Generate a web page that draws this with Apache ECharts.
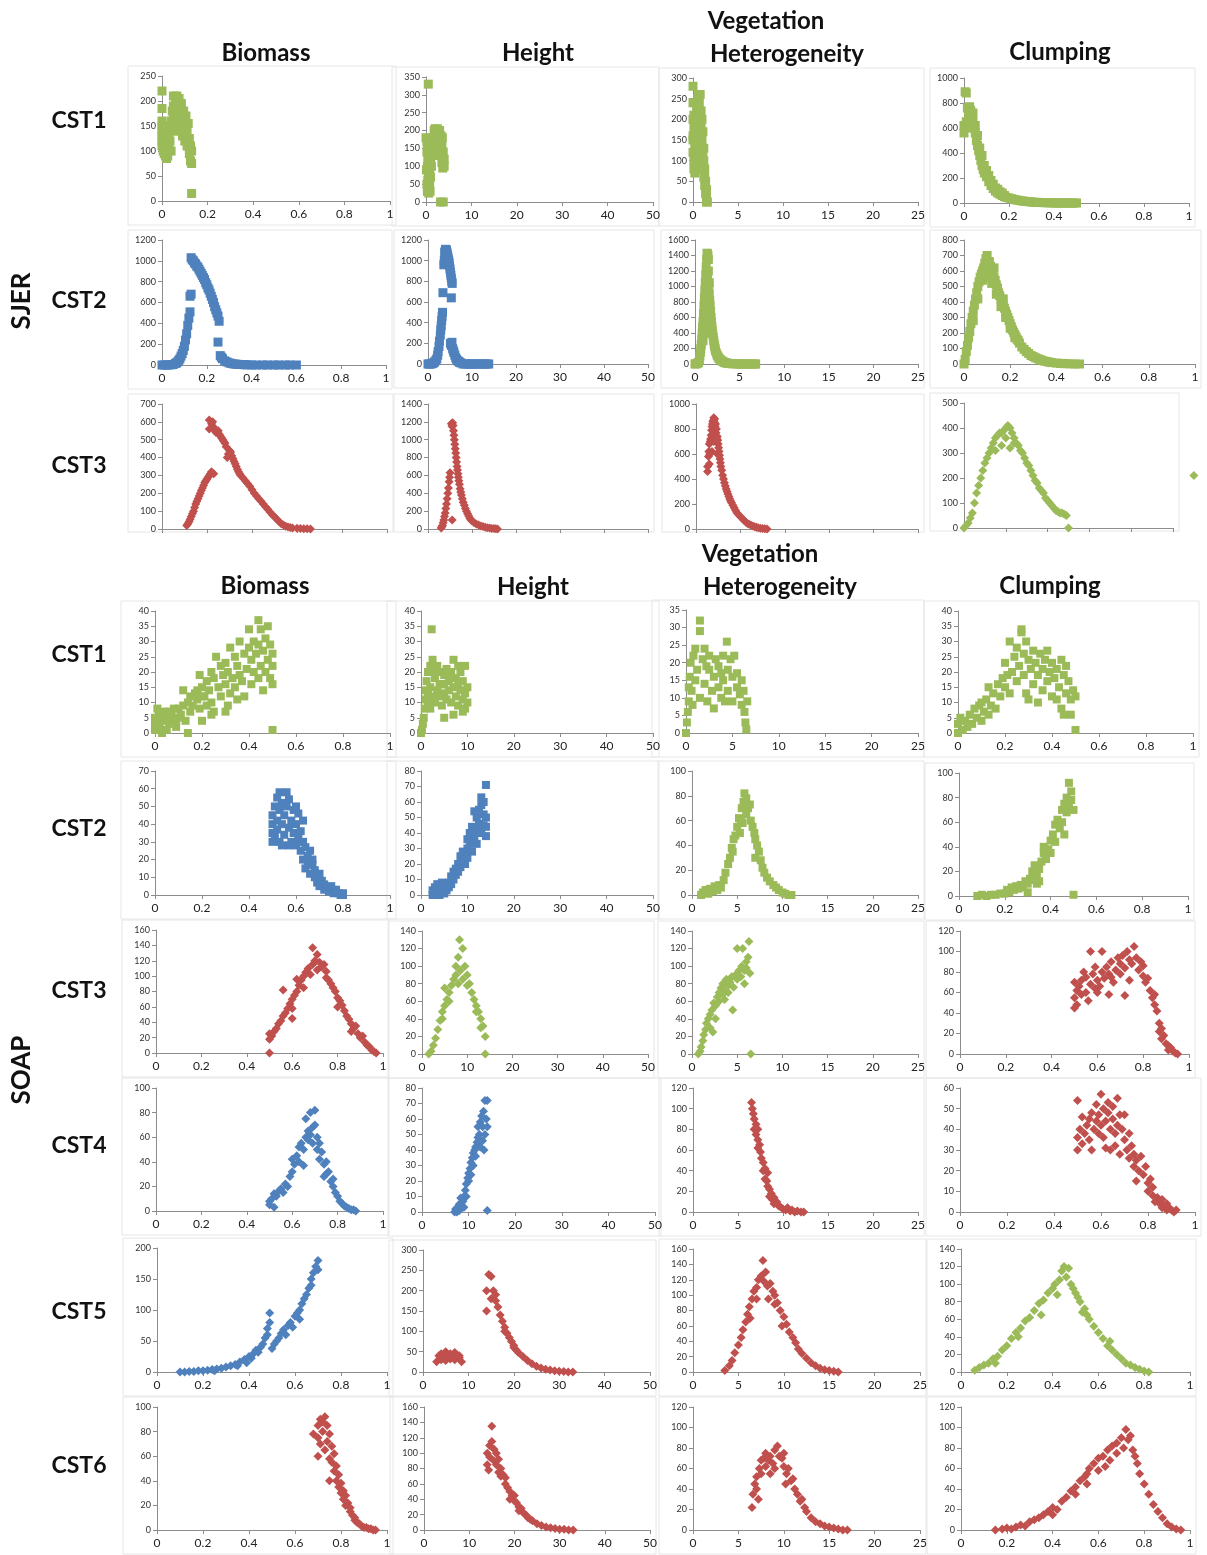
<!DOCTYPE html>
<html>
<head>
<meta charset="utf-8">
<title>SJER / SOAP scatter panels</title>
<script src="https://cdn.jsdelivr.net/npm/echarts@6/dist/echarts.min.js"></script>
<style>
  html, body { margin: 0; padding: 0; background: #fff; }
  #main { width: 1207px; height: 1555px; }
</style>
</head>
<body>
<div id="main"></div>
<script>
var GREEN = "#9bbb59", BLUE = "#4f81bd", RED = "#c0504d";

// column headings, row labels
var sjerRows = ["CST1", "CST2", "CST3"];
var soapRows = ["CST1", "CST2", "CST3", "CST4", "CST5", "CST6"];

// x axis per column
var xMaxes = [1, 50, 25, 1];
var xSteps = [0.2, 10, 5, 0.2];

// y axis max / step per panel row (9 rows x 4 cols)
var yMaxes = [
  [250, 350, 300, 1000],
  [1200, 1200, 1600, 800],
  [700, 1400, 1000, 500],
  [40, 40, 35, 40],
  [70, 80, 100, 100],
  [160, 140, 140, 120],
  [100, 80, 120, 60],
  [200, 300, 160, 140],
  [100, 160, 120, 120]
];
var ySteps = [
  [50, 50, 50, 200],
  [200, 200, 200, 100],
  [100, 200, 200, 100],
  [5, 5, 5, 5],
  [10, 10, 20, 20],
  [20, 20, 20, 20],
  [20, 10, 20, 10],
  [50, 50, 20, 20],
  [20, 20, 20, 20]
];

// ---------- SJER ----------
var sjerBio1 = [[0,220],[0,185],[0,160],[0,150],[0,140],[0,130],[0,120],[0,110],[0.005,100],[0.01,95],[0.01,150],[0.01,130],[0.015,90],[0.02,85],[0.02,100],[0.02,120],[0.025,90],[0.03,100],[0.03,130],[0.035,120],[0.04,140],[0.04,160],[0.045,150],[0.05,170],[0.05,190],[0.05,210],[0.055,180],[0.06,150],[0.06,200],[0.065,210],[0.07,160],[0.07,190],[0.075,205],[0.08,140],[0.08,175],[0.085,195],[0.09,130],[0.09,160],[0.095,180],[0.1,120],[0.1,150],[0.105,170],[0.11,110],[0.11,140],[0.115,155],[0.12,95],[0.12,125],[0.125,80],[0.125,110],[0.13,75],[0.13,100],[0.13,15],
  [0.03,110],[0.04,100],[0.06,170],[0.07,140],[0.08,160],[0.09,145],[0.1,135],[0.11,125],[0.12,110],[0.015,120],[0.005,135],[0.045,180],[0.06,190],[0.1,165],[0.02,140],[0.025,110]];
var sjerHgt1 = [[0.5,330],[0,180],[0.3,160],[0.2,140],[0.4,120],[0.3,100],[0.5,80],[0.4,60],[0.5,40],[0.6,25],[0.8,50],[0.8,90],[1,70],[1,110],[1,140],[1.2,100],[1.3,130],[1.4,160],[1.5,180],[1.6,150],[1.8,200],[2,170],[2,205],[2.2,190],[2.4,150],[2.5,205],[2.7,180],[2.8,140],[3,200],[3,160],[3.2,130],[3.3,185],[3.5,110],[3.5,160],[3.7,95],[3.8,140],[4,100],[4,120],[3.2,0],[3.8,0],
  [0.2,170],[0.1,90],[0.2,50],[0.7,120],[0.6,150],[1.1,160],[1.7,175],[2.3,160],[2.6,130],[3.4,145],[3.6,180],[2.9,190],[1.9,140],[0.9,30],[0.3,30]];
var sjerVeg1 = [[0,280],[0,240],[0,200],[0,160],[0,150],[0,120],[0.1,100],[0.1,80],[0.2,70],[0.2,130],[0.3,180],[0.3,110],[0.4,200],[0.4,150],[0.5,250],[0.5,220],[0.5,170],[0.6,260],[0.6,130],[0.7,240],[0.7,200],[0.7,160],[0.8,260],[0.8,110],[0.9,220],[0.9,180],[1,200],[1,150],[1,90],[1.1,170],[1.1,120],[1.2,100],[1.2,60],[1.3,80],[1.3,40],[1.4,50],[1.4,20],[1.5,10],[1.5,30],[1.6,0],[1.5,0],
  [0.2,100],[0.3,150],[0.4,230],[0.6,200],[0.8,220],[0.9,140],[1,120],[1.1,80],[1.2,130],[1.3,60],[0.6,100],[0.5,120],[0.1,180],[0.1,210]];
var sjerClu1 = [[0.005,890],[0.01,880],[0,560],[0,620],[0.01,650],[0.015,760],[0.02,700],[0.025,770],[0.03,600],[0.03,740],[0.035,680],[0.04,650],[0.045,600],[0.05,560],[0.05,620],[0.055,500],[0.06,460],[0.065,420],[0.07,380],[0.075,340],[0.08,300],[0.085,270],[0.09,240],[0.1,210],[0.11,170],[0.12,140],[0.13,115],[0.14,95],[0.15,80],[0.16,70],[0.17,60],[0.18,50],[0.19,45],[0.2,40],[0.22,30],[0.24,22],[0.26,16],[0.28,12],[0.3,8],[0.32,5],[0.34,4],[0.36,3],[0.38,2],[0.4,1],[0.42,0],[0.44,0],[0.46,0],[0.48,0],[0.5,0],[0.07,440],[0.09,300],[0.11,220],[0.13,150],[0.15,110],[0.17,80],
  [0.02,620],[0.04,720],[0.06,540],[0.08,380],[0.1,260],[0.12,180],[0.14,120],[0.16,90],[0.18,60],[0.21,35],[0.23,26],[0.25,19],[0.27,14],[0.29,10],[0.31,6],[0.33,5],[0.35,3],[0.37,2],[0.39,1],[0.41,0],[0.43,0],[0.45,0],[0.47,0],[0.49,0]];

var sjerBio2 = [[0,0],[0.02,0],[0.04,2],[0.05,5],[0.06,15],[0.07,30],[0.08,60],[0.09,110],[0.1,180],[0.105,240],[0.11,300],[0.115,380],[0.12,450],[0.125,510],[0.125,660],[0.13,680],[0.13,1030],[0.14,1000],[0.15,970],[0.16,940],[0.17,900],[0.18,860],[0.19,820],[0.2,770],[0.21,720],[0.22,660],[0.23,600],[0.24,530],[0.25,470],[0.255,420],[0.25,220],[0.26,90],[0.27,60],[0.28,40],[0.3,20],[0.32,10],[0.35,5],[0.38,2],[0.4,0],[0.45,0],[0.5,0],[0.55,0],[0.6,0],
  [0.03,0],[0.01,0],[0.065,20],[0.075,45],[0.085,85],[0.095,140],[0.135,1010],[0.145,980],[0.155,950],[0.165,920],[0.175,880],[0.185,840],[0.195,790],[0.205,740],[0.215,690],[0.225,630],[0.235,560],[0.245,500],[0.265,75],[0.29,30],[0.31,15],[0.33,8],[0.42,0],[0.47,0],[0.52,0],[0.57,0],[0.34,6],[0.36,4],[0.37,3]];
var sjerHgt2 = [[0,0],[0.5,0],[1,5],[1.5,20],[2,50],[2.3,120],[2.6,220],[2.9,330],[3.1,420],[3.3,500],[3.4,690],[3.6,960],[3.7,1000],[3.8,1080],[4,1110],[4.2,1100],[4.4,1060],[4.6,1020],[4.8,980],[5,920],[5.2,860],[5.4,800],[5.5,780],[5.3,640],[5.1,200],[5.3,180],[5.6,150],[5.9,110],[6.3,60],[6.8,30],[7.5,10],[8,0],[9,0],[10,0],[11,0],[12,0],[13,0],[13.8,0],
  [0.3,0],[0.8,2],[1.3,12],[1.8,35],[2.2,85],[2.5,170],[2.8,280],[3,370],[3.2,460],[3.9,1090],[4.1,1105],[4.3,1080],[4.5,1040],[4.7,1000],[4.9,950],[5.1,890],[5.3,830],[5.45,210],[5.75,130],[6.1,85],[6.5,45],[7,25],[8.5,0],[9.5,0],[10.5,0],[11.5,0],[12.5,0],[13.4,0],[7.2,15]];
var sjerVeg2 = [[0,0],[0.2,5],[0.4,20],[0.5,60],[0.6,150],[0.7,250],[0.8,400],[0.9,550],[1,750],[1.1,950],[1.2,1150],[1.3,1350],[1.35,1430],[1.45,1400],[1.5,1200],[1.55,1000],[1.6,900],[1.7,750],[1.8,600],[1.9,480],[2,380],[2.1,300],[2.2,230],[2.3,170],[2.5,110],[2.7,70],[3,40],[3.3,20],[3.6,10],[4,5],[4.5,2],[5,0],[5.5,0],[6,0],[6.5,0],[6.8,0],[1.2,800],[1.4,1100],[1.6,600],[1,400],[0.9,300],
  [0.1,2],[0.3,10],[0.55,100],[0.65,200],[0.75,320],[0.85,480],[0.95,650],[1.05,850],[1.15,1050],[1.25,1250],[1.4,1420],[1.5,1350],[1.6,1050],[1.65,820],[1.75,680],[1.85,540],[1.95,430],[2.05,340],[2.15,260],[2.25,200],[2.4,140],[2.6,90],[2.85,55],[3.15,30],[3.45,15],[3.8,8],[4.2,3],[4.8,1],[5.2,0],[5.7,0],[6.2,0],[6.7,0],[1.3,900],[1.5,700],[1.4,500],[1.7,400]];
var sjerClu2 = [[0,0],[0.005,30],[0.01,80],[0.02,170],[0.03,260],[0.04,340],[0.05,420],[0.06,500],[0.07,560],[0.08,600],[0.09,650],[0.1,700],[0.1,620],[0.11,660],[0.12,600],[0.13,560],[0.14,510],[0.15,460],[0.16,420],[0.17,380],[0.18,340],[0.19,300],[0.2,260],[0.21,220],[0.22,190],[0.23,160],[0.24,135],[0.25,110],[0.27,80],[0.29,55],[0.31,40],[0.33,28],[0.35,18],[0.37,12],[0.4,6],[0.43,3],[0.46,1],[0.5,0],[0.06,420],[0.08,540],[0.13,620],[0.17,420],[0.12,520],[0.2,230],[0.04,280],
  [0.015,120],[0.025,210],[0.035,300],[0.045,380],[0.055,460],[0.065,530],[0.075,580],[0.085,620],[0.095,680],[0.105,660],[0.115,630],[0.125,580],[0.135,540],[0.145,490],[0.155,440],[0.165,400],[0.175,360],[0.185,320],[0.195,280],[0.205,240],[0.215,205],[0.225,175],[0.235,150],[0.26,95],[0.28,68],[0.3,48],[0.32,34],[0.34,22],[0.36,15],[0.38,9],[0.42,4],[0.44,2],[0.48,0],[0.09,560],[0.11,580],[0.14,450],[0.16,370],[0.18,300],[0.22,170]];

var sjerBio3 = [[0.11,20],[0.12,40],[0.13,70],[0.14,100],[0.15,140],[0.16,170],[0.17,200],[0.18,230],[0.19,260],[0.2,280],[0.21,300],[0.22,320],[0.23,310],[0.21,610],[0.22,590],[0.21,560],[0.23,570],[0.24,540],[0.25,550],[0.26,520],[0.27,500],[0.28,480],[0.3,440],[0.29,400],[0.31,410],[0.32,380],[0.33,350],[0.34,320],[0.35,300],[0.37,270],[0.39,240],[0.41,200],[0.43,170],[0.45,140],[0.47,110],[0.49,80],[0.51,55],[0.53,30],[0.55,15],[0.57,8],[0.6,4],[0.63,2],[0.66,0],
  [0.115,30],[0.125,55],[0.135,85],[0.145,120],[0.155,155],[0.165,185],[0.175,215],[0.185,245],[0.195,270],[0.205,290],[0.215,310],[0.225,600],[0.235,550],[0.255,530],[0.265,510],[0.275,490],[0.285,460],[0.295,420],[0.305,430],[0.315,395],[0.325,365],[0.335,335],[0.345,310],[0.36,285],[0.38,255],[0.4,220],[0.42,185],[0.44,155],[0.46,125],[0.48,95],[0.5,68],[0.52,42],[0.54,22],[0.56,11],[0.58,6],[0.615,3],[0.645,1]];
var sjerHgt3 = [[3,10],[3.3,40],[3.6,100],[3.9,180],[4.2,280],[4.5,400],[4.8,530],[5,630],[5.5,100],[5.3,1180],[5.6,1190],[5.8,1100],[6,1000],[6.2,900],[6.4,800],[6.6,700],[6.8,620],[7,540],[7.3,450],[7.6,380],[8,300],[8.5,230],[9,170],[9.5,120],[10,90],[11,55],[12,35],[13,20],[14,10],[15,5],[15.8,0],
  [3.15,25],[3.45,70],[3.75,140],[4.05,230],[4.35,340],[4.65,460],[4.9,580],[5.45,1150],[5.7,1160],[5.9,1050],[6.1,950],[6.3,850],[6.5,750],[6.7,660],[6.9,580],[7.15,500],[7.45,415],[7.8,340],[8.25,265],[8.75,200],[9.25,145],[9.75,105],[10.5,70],[11.5,45],[12.5,28],[13.5,15],[14.5,7],[15.4,3]];
var sjerVeg3 = [[1.3,460],[1.3,500],[1.4,580],[1.5,520],[1.5,680],[1.6,700],[1.7,750],[1.8,820],[1.9,860],[2,890],[2.1,880],[2.2,840],[2.3,800],[2.2,720],[2.4,740],[2.5,680],[2.6,620],[2.7,560],[2.8,500],[3,430],[3.2,370],[3.4,320],[3.6,280],[3.8,240],[4,210],[4.3,170],[4.6,130],[5,100],[5.4,70],[5.8,45],[6.2,30],[6.6,18],[7,10],[7.5,5],[8,0],[1.8,620],[2,700],[2.4,600],
  [1.45,620],[1.55,600],[1.65,720],[1.75,790],[1.85,840],[1.95,870],[2.05,860],[2.15,820],[2.25,770],[2.35,720],[2.45,710],[2.55,650],[2.65,590],[2.75,530],[2.9,470],[3.1,400],[3.3,345],[3.5,300],[3.7,260],[3.9,225],[4.15,190],[4.45,150],[4.8,115],[5.2,85],[5.6,57],[6,38],[6.4,24],[6.8,14],[7.25,7],[7.75,2]];
var sjerClu3 = [[0,0],[0.01,10],[0.02,20],[0.03,40],[0.04,60],[0.05,100],[0.06,140],[0.07,170],[0.08,200],[0.09,230],[0.1,260],[0.11,280],[0.12,300],[0.13,320],[0.14,340],[0.15,360],[0.16,370],[0.17,380],[0.18,380],[0.19,390],[0.2,400],[0.21,410],[0.22,400],[0.23,380],[0.24,360],[0.25,340],[0.26,330],[0.27,310],[0.28,300],[0.29,280],[0.3,260],[0.31,250],[0.32,230],[0.33,210],[0.34,190],[0.35,180],[0.36,160],[0.37,150],[0.38,140],[0.39,120],[0.4,110],[0.41,100],[0.42,90],[0.43,80],[0.44,70],[0.45,65],[0.46,60],[0.47,60],[0.48,55],[0.49,50],[0.5,0],[0.15,310],[0.18,330],[0.2,360],[0.24,340],[0.22,320],[1.1,210]];

// ---------- SOAP ----------
var soapBio1 = [[0,1],[0,3],[0,5],[0.01,8],[0.02,2],[0.02,6],[0.03,0],[0.03,4],[0.04,7],[0.05,5],[0.06,3],[0.07,6],[0.08,4],[0.08,8],[0.09,2],[0.1,5],[0.1,8],[0.11,6],[0.12,14],[0.12,9],[0.13,4],[0.14,0],[0.14,10],[0.15,7],[0.15,12],[0.16,9],[0.17,13],[0.18,11],[0.19,19],[0.19,8],[0.2,4],[0.2,15],[0.21,12],[0.22,17],[0.22,9],[0.23,14],[0.24,20],[0.24,10],[0.25,18],[0.25,7],[0.26,25],[0.27,15],[0.28,22],[0.28,12],[0.29,19],[0.3,16],[0.3,23],[0.31,20],[0.31,9],[0.32,13],[0.32,28],[0.33,18],[0.34,25],[0.34,15],[0.35,22],[0.35,11],[0.36,30],[0.36,19],[0.37,17],[0.38,26],[0.38,12],[0.39,21],[0.4,28],[0.4,34],[0.41,16],[0.41,24],[0.42,30],[0.42,20],[0.44,37],[0.43,26],[0.44,18],[0.44,29],[0.45,34],[0.45,22],[0.46,14],[0.46,27],[0.47,31],[0.47,20],[0.48,35],[0.48,24],[0.49,18],[0.49,29],[0.5,26],[0.5,16],[0.5,22],[0.5,1],[0.09,4],[0.05,1],[0.01,1],[0.06,7],[0.24,6],[0.3,7],[0.18,14],[0.2,12]];
var soapHgt1 = [[0,0],[0.2,1],[0.4,3],[0.6,5],[0.8,8],[1,11],[1,14],[1.2,17],[1.5,20],[1.5,10],[2,22],[2,15],[2.3,34],[2.5,24],[2.5,12],[3,18],[3,10],[3.5,22],[3.5,14],[4,20],[4,12],[4.5,16],[4.5,9],[5,5],[5,19],[5,13],[5.5,21],[5.5,11],[6,17],[6,14],[6.5,20],[6.5,10],[7,24],[7,15],[7,6],[7.5,12],[7.5,18],[8,22],[8,9],[8.5,14],[8.5,20],[9,11],[9,17],[9.5,8],[9.5,13],[9.5,22],[10,10],[10,15],[2,8],[3,20],[4,16],[6,19],[8,16],[1.5,13],[5,16],[9,7]];
var soapVeg1 = [[0,0],[0.1,3],[0.2,6],[0.3,9],[0.3,13],[0.4,16],[0.5,20],[0.6,12],[0.8,22],[1,24],[1,15],[1.2,18],[1.5,32],[1.5,29],[1.5,10],[1.8,21],[2,14],[2,24],[2.3,9],[2.5,18],[2.5,22],[2.8,12],[3,7],[3,16],[3.2,21],[3.5,13],[3.5,19],[3.8,10],[4,22],[4,15],[4.4,26],[4.5,12],[4.5,18],[4.8,21],[5,9],[5,16],[5.2,22],[5.5,13],[5.5,17],[5.8,11],[6,15],[6,8],[6.2,12],[6.3,6],[6.4,3],[6.5,1],[6.6,9],[0.7,8],[2.2,19],[3.8,17],[4.2,9]];
var soapClu1 = [[0,0],[0,3],[0.01,5],[0.02,1],[0.03,4],[0.04,2],[0.05,6],[0.06,3],[0.07,8],[0.08,5],[0.09,9],[0.1,4],[0.1,10],[0.11,7],[0.12,11],[0.13,6],[0.13,15],[0.14,9],[0.15,13],[0.16,8],[0.17,16],[0.18,12],[0.19,18],[0.2,15],[0.2,23],[0.21,19],[0.22,30],[0.22,13],[0.23,20],[0.24,25],[0.25,17],[0.25,28],[0.26,22],[0.27,33],[0.27,34],[0.28,26],[0.28,19],[0.29,30],[0.29,13],[0.3,24],[0.3,11],[0.31,21],[0.32,27],[0.32,16],[0.33,23],[0.34,19],[0.34,10],[0.35,26],[0.36,21],[0.36,14],[0.37,24],[0.38,17],[0.38,27],[0.39,20],[0.4,12],[0.4,23],[0.41,18],[0.42,21],[0.42,11],[0.43,15],[0.44,24],[0.44,8],[0.45,19],[0.45,6],[0.46,22],[0.46,13],[0.47,17],[0.48,11],[0.48,6],[0.49,14],[0.5,1],[0.5,12]];

var soapBio2 = [[0.5,30],[0.5,35],[0.5,40],[0.5,45],[0.51,50],[0.51,33],[0.52,55],[0.52,42],[0.52,37],[0.53,58],[0.53,48],[0.53,30],[0.54,52],[0.54,40],[0.55,45],[0.55,34],[0.56,58],[0.56,50],[0.57,38],[0.57,54],[0.58,42],[0.58,30],[0.59,48],[0.59,35],[0.6,28],[0.6,40],[0.61,32],[0.61,46],[0.62,36],[0.62,25],[0.63,30],[0.63,20],[0.64,27],[0.64,15],[0.65,22],[0.65,18],[0.66,25],[0.66,12],[0.67,17],[0.67,20],[0.68,10],[0.68,14],[0.69,7],[0.7,12],[0.7,5],[0.71,8],[0.72,3],[0.72,6],[0.73,4],[0.74,2],[0.75,5],[0.76,1],[0.77,3],[0.78,1],[0.79,0],[0.8,1],[0.8,0],[0.57,28],[0.54,28],[0.6,50],[0.63,42]];
var soapHgt2 = [[2.5,0],[2.5,3],[3,1],[3,5],[3.5,2],[3.5,7],[4,0],[4,4],[4.5,8],[4.5,2],[5,5],[5,1],[5.5,6],[5.5,3],[6,8],[6,5],[6.5,12],[6.5,7],[7,10],[7,15],[7.5,13],[7.5,17],[8,15],[8,20],[8.5,18],[8.5,25],[9,22],[9,28],[9.5,26],[9.5,20],[10,30],[10,36],[10.5,33],[10.5,40],[11,35],[11,44],[11.5,38],[11.5,54],[12,42],[12,50],[12.5,46],[12.5,55],[13,40],[13,58],[13,63],[13.5,45],[13.5,52],[13.5,60],[14,38],[14,50],[14,71],[14,44],[11,28],[12,33],[10,24]];
var soapVeg2 = [[1,0],[1.2,2],[1.5,4],[1.8,1],[2,5],[2.3,3],[2.5,7],[2.8,4],[3,8],[3.2,6],[3.5,12],[3.7,18],[4,25],[4.2,30],[4.4,38],[4.6,45],[4.8,48],[5,55],[5.2,62],[5.4,60],[5.5,70],[5.7,75],[5.8,82],[6,78],[6,65],[6.2,70],[6.4,73],[6.5,60],[6.7,55],[6.9,50],[7,45],[7.2,40],[7.4,35],[7.6,28],[7.8,22],[8,18],[8.3,14],[8.6,11],[9,8],[9.3,6],[9.6,4],[10,2],[10.3,1],[10.7,0],[11,0],[5.3,50],[5.6,58],[4.5,35],[7,30]];
var soapClu2 = [[0.08,0],[0.1,1],[0.12,0],[0.14,1],[0.16,1],[0.18,2],[0.2,2],[0.21,5],[0.22,3],[0.23,7],[0.24,5],[0.25,8],[0.26,6],[0.27,9],[0.28,7],[0.29,12],[0.3,10],[0.31,14],[0.32,20],[0.32,13],[0.33,25],[0.34,18],[0.35,22],[0.35,12],[0.36,28],[0.37,35],[0.37,40],[0.38,30],[0.39,38],[0.4,45],[0.4,35],[0.41,50],[0.42,58],[0.42,44],[0.43,62],[0.44,55],[0.45,70],[0.45,60],[0.46,75],[0.46,50],[0.47,80],[0.47,68],[0.48,92],[0.48,72],[0.49,85],[0.49,78],[0.5,70],[0.5,1],[0.3,3],[0.34,10]];

var soapBio3 = [[0.5,0],[0.5,18],[0.5,25],[0.51,22],[0.52,28],[0.53,32],[0.54,38],[0.55,42],[0.56,48],[0.56,82],[0.57,52],[0.58,58],[0.59,64],[0.6,70],[0.6,58],[0.61,75],[0.62,80],[0.62,96],[0.63,88],[0.64,95],[0.65,100],[0.65,85],[0.66,105],[0.67,110],[0.68,102],[0.69,137],[0.69,115],[0.7,120],[0.71,128],[0.71,108],[0.72,118],[0.73,112],[0.74,115],[0.75,106],[0.76,95],[0.77,90],[0.78,85],[0.79,80],[0.8,72],[0.81,68],[0.82,62],[0.83,55],[0.84,48],[0.85,44],[0.86,38],[0.87,32],[0.88,35],[0.89,25],[0.9,20],[0.91,22],[0.92,14],[0.93,10],[0.94,8],[0.95,4],[0.96,2],[0.97,0],[0.75,98],[0.8,60],[0.86,28],[0.6,45]];
var soapHgt3 = [[1.5,0],[2,3],[2.5,10],[3,18],[3.5,28],[4,38],[4.5,48],[5,55],[5,75],[5.5,62],[6,70],[6.5,78],[7,85],[7.5,90],[7.5,100],[8,110],[8.3,130],[8.5,95],[9,120],[9,85],[9.5,100],[10,90],[10.5,80],[11,70],[11.5,62],[12,55],[12.5,48],[13,40],[13.5,32],[14,20],[14,0],[4.5,40],[6,60],[8,80],[10,78],[12,48],[13,30]];
var soapVeg3 = [[0.7,0],[0.9,3],[1,8],[1.2,15],[1.3,22],[1.5,28],[1.6,35],[1.8,40],[2,45],[2,30],[2.2,50],[2.3,25],[2.4,58],[2.6,55],[2.8,65],[3,70],[3,60],[3.2,75],[3.4,80],[3.4,68],[3.6,72],[3.8,85],[4,78],[4,70],[4.2,82],[4.4,88],[4.5,50],[4.6,76],[4.8,90],[5,85],[5,120],[5.2,95],[5.4,88],[5.5,100],[5.6,120],[5.8,95],[5.8,80],[6,105],[6,98],[6.2,110],[6.3,128],[6.4,92],[6.5,0],[3.6,62],[2.6,40]];
var soapClu3 = [[0.5,45],[0.5,55],[0.5,70],[0.51,48],[0.51,62],[0.52,66],[0.53,58],[0.53,72],[0.54,80],[0.55,60],[0.55,75],[0.56,52],[0.57,68],[0.57,100],[0.58,78],[0.59,64],[0.59,85],[0.6,72],[0.61,66],[0.62,100],[0.62,80],[0.63,74],[0.64,85],[0.65,58],[0.65,78],[0.66,90],[0.67,70],[0.68,82],[0.69,94],[0.7,78],[0.7,88],[0.71,96],[0.72,57],[0.72,84],[0.73,100],[0.74,92],[0.74,72],[0.75,88],[0.76,105],[0.77,94],[0.78,82],[0.79,90],[0.8,76],[0.8,86],[0.81,70],[0.82,74],[0.83,62],[0.84,55],[0.85,48],[0.85,58],[0.86,42],[0.87,30],[0.87,22],[0.88,25],[0.88,15],[0.89,18],[0.9,10],[0.91,8],[0.91,4],[0.92,6],[0.93,3],[0.94,1],[0.95,0],[0.6,60],[0.66,75]];

var soapBio4 = [[0.5,5],[0.5,8],[0.51,10],[0.52,3],[0.52,14],[0.53,12],[0.54,16],[0.55,18],[0.56,15],[0.57,22],[0.58,20],[0.59,28],[0.6,32],[0.6,42],[0.61,38],[0.62,45],[0.63,52],[0.63,40],[0.64,55],[0.65,50],[0.66,60],[0.66,75],[0.67,58],[0.67,65],[0.68,62],[0.68,80],[0.69,55],[0.69,68],[0.7,70],[0.7,82],[0.71,60],[0.71,50],[0.72,55],[0.72,42],[0.73,48],[0.74,38],[0.75,40],[0.75,30],[0.76,32],[0.77,24],[0.78,20],[0.79,15],[0.8,12],[0.81,8],[0.82,6],[0.83,4],[0.84,3],[0.85,2],[0.86,1],[0.87,1],[0.88,0],[0.65,37],[0.74,28],[0.78,26]];
var soapHgt4 = [[7,0],[7.2,2],[7.5,0],[7.8,3],[8,1],[8,5],[8.3,9],[8.5,4],[8.8,7],[9,10],[9,3],[9.3,14],[9.5,18],[9.5,10],[9.8,22],[10,25],[10,20],[10.3,28],[10.5,32],[10.5,24],[10.8,35],[11,38],[11,30],[11.3,40],[11.5,42],[11.5,36],[11.8,45],[12,48],[12,55],[12.3,50],[12.5,58],[12.5,42],[12.8,62],[13,55],[13,46],[13.2,65],[13.5,72],[13.5,50],[13.8,60],[14,72],[14,55],[13.3,40],[14,1]];
var soapVeg4 = [[6.5,106],[6.6,100],[6.7,95],[6.8,90],[6.8,80],[7,85],[7,75],[7.2,70],[7.2,62],[7.4,65],[7.5,58],[7.6,52],[7.8,48],[7.8,40],[8,42],[8,32],[8.2,30],[8.3,25],[8.5,22],[8.5,15],[8.7,18],[8.8,12],[9,14],[9,8],[9.3,10],[9.5,6],[9.7,5],[10,3],[10.3,2],[10.5,4],[10.8,1],[11,2],[11.3,0],[11.6,1],[12,0],[12.3,0],[7.2,80],[8.3,38]];
var soapClu4 = [[0.5,54],[0.5,30],[0.5,36],[0.51,40],[0.52,33],[0.52,46],[0.53,38],[0.54,42],[0.55,35],[0.55,45],[0.56,30],[0.56,48],[0.57,40],[0.58,44],[0.58,52],[0.59,38],[0.59,47],[0.6,57],[0.6,42],[0.61,36],[0.61,50],[0.62,44],[0.62,31],[0.63,48],[0.63,53],[0.64,40],[0.64,30],[0.65,45],[0.65,51],[0.66,38],[0.66,32],[0.67,55],[0.67,42],[0.68,47],[0.68,28],[0.69,40],[0.7,35],[0.7,47],[0.71,30],[0.72,38],[0.72,26],[0.73,32],[0.74,28],[0.74,22],[0.75,15],[0.75,25],[0.76,20],[0.77,27],[0.78,18],[0.79,22],[0.8,14],[0.8,10],[0.81,16],[0.82,8],[0.82,12],[0.83,5],[0.84,7],[0.85,4],[0.86,6],[0.86,2],[0.87,3],[0.88,1],[0.88,4],[0.89,2],[0.9,1],[0.91,0],[0.92,1]];

var soapBio5 = [[0.1,0],[0.12,0],[0.14,1],[0.16,1],[0.18,2],[0.2,2],[0.22,3],[0.24,4],[0.26,5],[0.28,6],[0.3,8],[0.32,10],[0.34,12],[0.36,16],[0.38,20],[0.4,25],[0.41,22],[0.42,30],[0.43,35],[0.44,32],[0.45,40],[0.46,45],[0.47,55],[0.48,60],[0.48,70],[0.49,95],[0.49,80],[0.5,38],[0.51,45],[0.52,50],[0.53,55],[0.54,62],[0.55,68],[0.56,60],[0.57,75],[0.58,80],[0.59,72],[0.6,90],[0.61,95],[0.62,100],[0.62,85],[0.63,110],[0.64,118],[0.65,125],[0.66,135],[0.67,140],[0.67,150],[0.68,160],[0.69,170],[0.7,180],[0.7,165],[0.25,2],[0.35,10],[0.39,15]];
var soapHgt5 = [[3,25],[3.5,40],[4,30],[4,45],[4.5,35],[5,50],[5,28],[5.5,40],[6,32],[6,45],[6.5,38],[7,30],[7,48],[7.5,42],[8,35],[8.5,25],[8,40],[14,200],[14.5,240],[15,235],[15,180],[15.5,200],[16,175],[16.5,160],[17,140],[17.5,125],[18,110],[18.5,95],[19,85],[19.5,75],[20,65],[20.5,55],[21,48],[22,38],[23,28],[24,20],[25,14],[26,10],[27,7],[28,5],[29,3],[30,2],[31,1],[32,0],[33,0],[14,150],[16,190],[18,100],[20,60]];
var soapVeg5 = [[3.5,2],[4,8],[4.3,15],[4.6,25],[5,35],[5.3,45],[5.5,55],[5.8,65],[6,75],[6.2,85],[6.5,95],[6.7,105],[7,110],[7,95],[7.2,120],[7.5,125],[7.7,145],[7.8,118],[8,130],[8.2,112],[8.5,115],[8.8,105],[9,100],[9,88],[9.3,90],[9.6,80],[10,72],[10.3,62],[10.6,52],[11,45],[11.3,38],[11.6,30],[12,24],[12.5,18],[13,12],[13.5,8],[14,5],[14.5,3],[15,2],[15.5,1],[16,0],[6.3,70],[8.3,95],[9.8,60]];
var soapClu5 = [[0.06,2],[0.08,5],[0.1,8],[0.12,10],[0.14,15],[0.16,18],[0.18,25],[0.2,30],[0.22,38],[0.24,45],[0.26,50],[0.28,58],[0.3,62],[0.32,70],[0.34,78],[0.36,82],[0.38,90],[0.4,95],[0.41,100],[0.42,88],[0.43,105],[0.44,115],[0.45,120],[0.46,108],[0.47,118],[0.48,100],[0.49,95],[0.5,90],[0.51,85],[0.52,80],[0.54,72],[0.55,65],[0.56,60],[0.58,52],[0.6,45],[0.62,38],[0.64,30],[0.66,25],[0.68,20],[0.7,15],[0.72,10],[0.74,8],[0.76,5],[0.78,3],[0.8,1],[0.82,0],[0.15,10],[0.25,40],[0.35,65],[0.53,68],[0.65,35]];

var soapBio6 = [[0.7,85],[0.7,75],[0.71,90],[0.71,70],[0.72,88],[0.72,80],[0.73,92],[0.73,65],[0.74,85],[0.74,72],[0.75,78],[0.75,58],[0.76,68],[0.76,55],[0.77,62],[0.77,48],[0.78,52],[0.78,40],[0.79,45],[0.79,35],[0.8,38],[0.8,30],[0.81,32],[0.81,25],[0.82,28],[0.82,20],[0.83,22],[0.84,15],[0.84,18],[0.85,12],[0.86,8],[0.86,10],[0.87,6],[0.88,5],[0.89,3],[0.9,2],[0.91,2],[0.92,1],[0.93,1],[0.94,0],[0.95,0],[0.7,60],[0.68,78],[0.75,40]];
var soapHgt6 = [[14,85],[14,100],[14.5,110],[14.5,95],[15,135],[15,115],[15.5,105],[15.5,90],[16,100],[16,85],[16.5,92],[17,80],[17,70],[17.5,72],[18,60],[18,68],[18.5,55],[19,50],[19.5,45],[20,38],[20,45],[20.5,35],[21,30],[21.5,28],[22,22],[22.5,20],[23,16],[23.5,14],[24,12],[25,8],[26,6],[27,4],[28,3],[29,2],[30,1],[31,1],[32,0],[33,0],[14.3,78],[16.5,75],[19,40],[21,25]];
var soapVeg6 = [[6.5,22],[6.6,35],[6.8,45],[7,52],[7,40],[7.3,60],[7.5,55],[7.5,68],[7.8,70],[8,62],[8,75],[8.3,68],[8.5,72],[8.8,65],[9,78],[9,60],[9.3,82],[9.5,72],[9.8,70],[10,62],[10,75],[10.3,55],[10.5,60],[10.8,48],[11,50],[11.2,40],[11.5,35],[11.8,28],[12,30],[12.3,22],[12.5,18],[13,12],[13.5,8],[14,6],[14.5,4],[15,3],[15.5,2],[16,1],[16.5,0],[17,0],[7.2,30],[8.5,55],[10.2,45]];
var soapClu6 = [[0.15,0],[0.18,1],[0.2,2],[0.22,1],[0.24,3],[0.26,5],[0.28,4],[0.3,8],[0.32,10],[0.34,12],[0.36,15],[0.38,18],[0.4,22],[0.42,20],[0.44,28],[0.46,32],[0.48,38],[0.5,42],[0.5,35],[0.52,48],[0.54,52],[0.55,45],[0.56,60],[0.58,65],[0.6,70],[0.6,58],[0.62,72],[0.64,78],[0.65,68],[0.66,82],[0.68,85],[0.68,75],[0.7,90],[0.71,80],[0.72,98],[0.73,88],[0.74,92],[0.75,78],[0.76,72],[0.77,65],[0.78,55],[0.8,45],[0.82,35],[0.84,25],[0.86,18],[0.88,12],[0.9,6],[0.92,3],[0.94,1],[0.96,0],[0.4,15],[0.55,55],[0.63,62]];

var panelData = [
  [sjerBio1, sjerHgt1, sjerVeg1, sjerClu1],
  [sjerBio2, sjerHgt2, sjerVeg2, sjerClu2],
  [sjerBio3, sjerHgt3, sjerVeg3, sjerClu3],
  [soapBio1, soapHgt1, soapVeg1, soapClu1],
  [soapBio2, soapHgt2, soapVeg2, soapClu2],
  [soapBio3, soapHgt3, soapVeg3, soapClu3],
  [soapBio4, soapHgt4, soapVeg4, soapClu4],
  [soapBio5, soapHgt5, soapVeg5, soapClu5],
  [soapBio6, soapHgt6, soapVeg6, soapClu6]
];

// marker colour / shape per panel
var G = GREEN, B = BLUE, R = RED;
var panelColors = [
  [G, G, G, G], [B, B, G, G], [R, R, R, G],
  [G, G, G, G], [B, B, G, G], [R, G, G, R],
  [B, B, R, R], [B, R, R, G], [R, R, R, R]
];
var rowShapes = ["rect", "rect", "diamond", "rect", "rect", "diamond", "diamond", "diamond", "diamond"];
var rowSizes = [9, 9, 9, 8, 8, 9, 9, 9, 9];

// plot boxes in px: [left(x=0), right(x=max), top(y=max), bottom(y=0)]
var boxes = [
  [[162,390,76,201],[426,653,77,202],[693,918,78,202],[964,1189,78,203]],
  [[162,386,240,365],[428,648,240,364],[695,918,240,364],[964,1195,240,364]],
  [[162,387,404,529],[428,648,404,529],[696,918,404,529],[964,1173,403,528]],
  [[155,390,611,733],[421,653,611,733],[686,918,610,733],[958,1193,611,733]],
  [[155,390,771,895],[421,653,771,895],[692,918,771,895],[959,1188,773,896]],
  [[156,383,930,1053],[422,648,931,1054],[692,918,931,1054],[960,1189,931,1054]],
  [[156,383,1088,1211],[422,655,1088,1212],[693,918,1088,1212],[960,1195,1088,1212]],
  [[157,387,1248,1372],[423,650,1250,1372],[693,920,1249,1372],[961,1190,1249,1372]],
  [[157,387,1407,1530],[424,650,1407,1530],[693,920,1407,1530],[961,1190,1407,1530]]
];

var FONT = "Lato, 'Open Sans', sans-serif";
var grids = [], xAxes = [], yAxes = [], series = [], graphics = [];

// plain numbers, no thousands separator
function plain(v) {
  return String(Math.round(v * 1000) / 1000);
}

for (var r = 0; r < 9; r++) {
  for (var c = 0; c < 4; c++) {
    var k = grids.length;
    var b = boxes[r][c];
    grids.push({ left: b[0], top: b[2], width: b[1] - b[0], height: b[3] - b[2], outerBoundsMode: "none" });
    xAxes.push({
      type: "value", gridIndex: k, min: 0, max: xMaxes[c], interval: xSteps[c],
      axisLine: { show: true, lineStyle: { color: "#8c8c8c", width: 1 } },
      axisTick: { show: true, length: 4, lineStyle: { color: "#8c8c8c" } },
      axisLabel: { show: r != 2, color: "#222", fontSize: 12, fontFamily: FONT, margin: 7, formatter: plain },
      splitLine: { show: false }
    });
    yAxes.push({
      type: "value", gridIndex: k, min: 0, max: yMaxes[r][c], interval: ySteps[r][c],
      axisLine: { show: true, lineStyle: { color: "#8c8c8c", width: 1 } },
      axisTick: { show: true, length: 4, lineStyle: { color: "#8c8c8c" } },
      axisLabel: { color: "#333", fontSize: 9, fontFamily: FONT, margin: 6, formatter: plain },
      splitLine: { show: false }
    });
    series.push({
      type: "scatter", xAxisIndex: k, yAxisIndex: k,
      symbol: rowShapes[r],
      symbolSize: rowSizes[r],
      clip: false,
      itemStyle: { color: panelColors[r][c], opacity: 1 },
      data: panelData[r][c]
    });
    // faint chart-area frame (SJER CST3 row is cut off under its axis)
    var frameH = r == 2 ? (b[3] - b[2] + 13) : (b[3] - b[2] + 34);
    graphics.push({
      type: "rect", silent: true, z: -1,
      shape: { x: b[0] - 34, y: b[2] - 10, width: b[1] - b[0] + 40, height: frameH },
      style: { fill: null, stroke: "#e6e6e6", lineWidth: 1 }
    });
  }
}

function addText(txt, x, y, size, rot) {
  graphics.push({
    type: "text", x: x, y: y, rotation: rot || 0, z: 10,
    style: {
      text: txt, fill: "#111", fontSize: size, fontWeight: "bold", fontFamily: FONT,
      textAlign: "center", textVerticalAlign: "middle", align: "center", verticalAlign: "middle"
    }
  });
}

// column headings
addText("Biomass", 266, 53, 24);
addText("Height", 538, 53, 24);
addText("Vegetation", 766, 21, 24);
addText("Heterogeneity", 787, 54, 24);
addText("Clumping", 1060, 52, 24);
addText("Biomass", 265, 586, 24);
addText("Height", 533, 587, 24);
addText("Vegetation", 760, 554, 24);
addText("Heterogeneity", 780, 587, 24);
addText("Clumping", 1050, 586, 24);

// row labels
var sjerY = [121, 301, 466];
var soapY = [655, 829, 991, 1146, 1312, 1466];
for (var i = 0; i < sjerRows.length; i++) addText(sjerRows[i], 79, sjerY[i], 23);
for (var j = 0; j < soapRows.length; j++) addText(soapRows[j], 79, soapY[j], 23);
addText("SJER", 22, 301, 26, Math.PI / 2);
addText("SOAP", 22, 1070, 26, Math.PI / 2);

var chart = echarts.init(document.getElementById("main"));
chart.setOption({
  animation: false,
  backgroundColor: "#fff",
  grid: grids,
  xAxis: xAxes,
  yAxis: yAxes,
  series: series,
  graphic: graphics
});
</script>
</body>
</html>
